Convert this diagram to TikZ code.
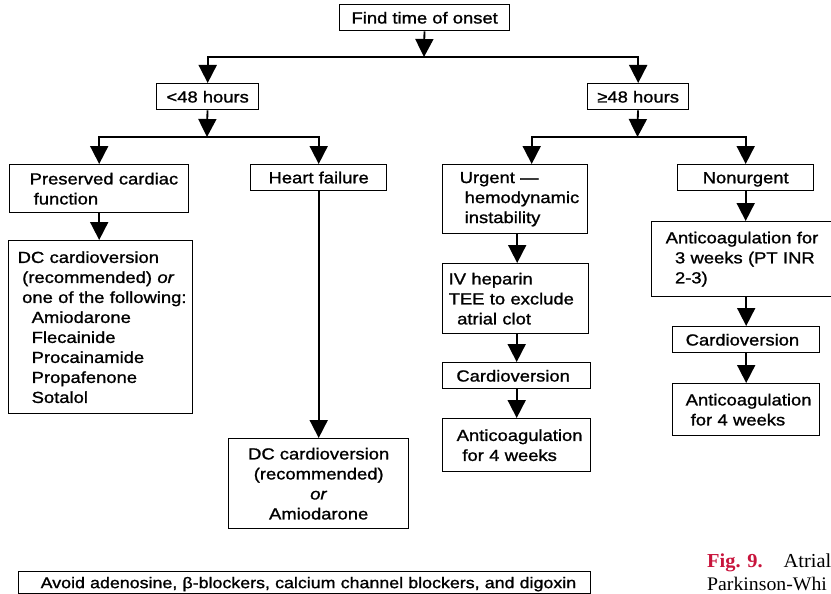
\documentclass[tikz,border=0pt]{standalone}
\usepackage{fontspec}
\setmainfont{Liberation Sans}[FakeStretch=1.15, FakeBold=1.2]
\newfontfamily\capfont{Liberation Serif}[FakeStretch=1.03]
\usetikzlibrary{arrows.meta}
\definecolor{figred}{RGB}{200,20,60}

\begin{document}
\begin{tikzpicture}[x=1pt, y=-1pt,
    box/.style={draw, line width=1.4pt, anchor=north west, inner sep=0pt, align=left,
      font=\fontsize{16}{20}\selectfont},
    cbox/.style={box, align=center},
    oneline/.style={text height=11.6pt, text depth=0pt},
    arr/.style={line width=1.8pt, -{Triangle[width=18pt,length=18pt]}}]
  \useasboundingbox (0,0) rectangle (831,594);

  % top level
  \node[cbox, oneline, minimum width=170pt, minimum height=26pt] (find) at (339,4) {Find time of onset};
  \node[cbox, oneline, minimum width=102pt, minimum height=26pt] (lt48) at (156,83) {<48 hours};
  \node[cbox, oneline, minimum width=101pt, minimum height=26pt] (ge48) at (587,83) {≥48 hours};
  \coordinate (j1) at (424,57);
  \coordinate (j2) at (207,137);
  \coordinate (j3) at (637.5,137);

  % <48 hours branch
  \node[box, text width=179pt, minimum height=48pt] (pres) at (9,164)
    {\hspace*{20pt}Preserved cardiac\\\hspace*{24pt}function};
  \node[cbox, oneline, minimum width=136pt, minimum height=25.5pt] (hf) at (250,164) {Heart failure};
  \node[box, text width=184pt, minimum height=173pt] (dc1) at (8,240)
    {\hspace*{9pt}DC cardioversion\\
     \hspace*{13.5pt}(recommended) \textit{or}\\
     \hspace*{13.5pt}one of the following:\\
     \hspace*{23pt}Amiodarone\\
     \hspace*{23pt}Flecainide\\
     \hspace*{23pt}Procainamide\\
     \hspace*{23pt}Propafenone\\
     \hspace*{23pt}Sotalol};
  \node[cbox, minimum width=180pt, minimum height=90pt] (dc2) at (228,438)
    {DC cardioversion\\(recommended)\\\textit{or}\\Amiodarone};

  % >=48 hours branch
  \node[box, text width=145pt, minimum height=69pt] (urg) at (442,164)
    {\hspace*{17pt}Urgent —\\\hspace*{22pt}hemodynamic\\\hspace*{22pt}instability};
  \node[box, text width=146pt, minimum height=70pt] (iv) at (442,263)
    {\hspace*{6pt}IV heparin\\\hspace*{6pt}TEE to exclude\\\hspace*{14.5pt}atrial clot};
  \node[box, oneline, text width=148pt, minimum height=26pt] (card1) at (442,362)
    {\hspace*{13.7pt}Cardioversion};
  \node[box, text width=148pt, minimum height=53pt] (anti1) at (442,418)
    {\hspace*{14pt}Anticoagulation\\\hspace*{19.7pt}for 4 weeks};
  \node[cbox, oneline, minimum width=136pt, minimum height=25.5pt] (nonurg) at (677,164) {Nonurgent};
  \node[box, text width=190pt, minimum height=75pt] (anti3) at (651,221)
    {\hspace*{14pt}Anticoagulation for\\\hspace*{23.3pt}3 weeks (PT INR\\\hspace*{23.3pt}2-3)};
  \node[box, oneline, text width=147pt, minimum height=26pt] (card2) at (672,326)
    {\hspace*{13pt}Cardioversion};
  \node[box, text width=147pt, minimum height=52pt] (anti2) at (672,383)
    {\hspace*{13pt}Anticoagulation\\\hspace*{18pt}for 4 weeks};

  % bottom note and caption
  \node[box, text width=572pt, minimum height=22pt, text height=10.9pt, text depth=0pt,
    font=\fontsize{15.5}{18}\selectfont] (avoid) at (18,571)
    {\hspace*{22pt}Avoid adenosine, β-blockers, calcium channel blockers, and digoxin};
  \node[anchor=base west, inner sep=0pt, font=\capfont\fontsize{19.8}{26}\selectfont] (cap1) at (707,567)
    {\textcolor{figred}{\textbf{Fig. 9.}}\hspace*{21pt}Atrial};
  \node[anchor=base west, inner sep=0pt, font=\capfont\fontsize{19.2}{26}\selectfont] (cap2) at (707,590)
    {Parkinson-Whi};

  % arrows
  \draw[arr] (find) -- (j1);
  \draw[arr] (j1) -| (lt48);
  \draw[arr] (j1) -| (ge48);
  \draw[arr] (lt48) -- (j2);
  \draw[arr] (j2) -| (pres);
  \draw[arr] (j2) -| (hf);
  \draw[arr] (pres) -- (pres |- dc1.north);
  \draw[arr] (hf) -- (dc2);
  \draw[arr] (ge48) -- (j3);
  \draw[arr] (j3) -| ([xshift=16.5pt]urg.north);
  \draw[arr] (j3) -| (nonurg);
  \draw[arr] ([xshift=2pt]urg.south) -- ([xshift=2pt]urg.south |- iv.north);
  \draw[arr] (card1.north |- iv.south) -- (card1);
  \draw[arr] (card1) -- (anti1);
  \draw[arr] (nonurg) -- (nonurg |- anti3.north);
  \draw[arr] (card2 |- anti3.south) -- (card2);
  \draw[arr] (card2) -- (anti2);
\end{tikzpicture}
\end{document}
